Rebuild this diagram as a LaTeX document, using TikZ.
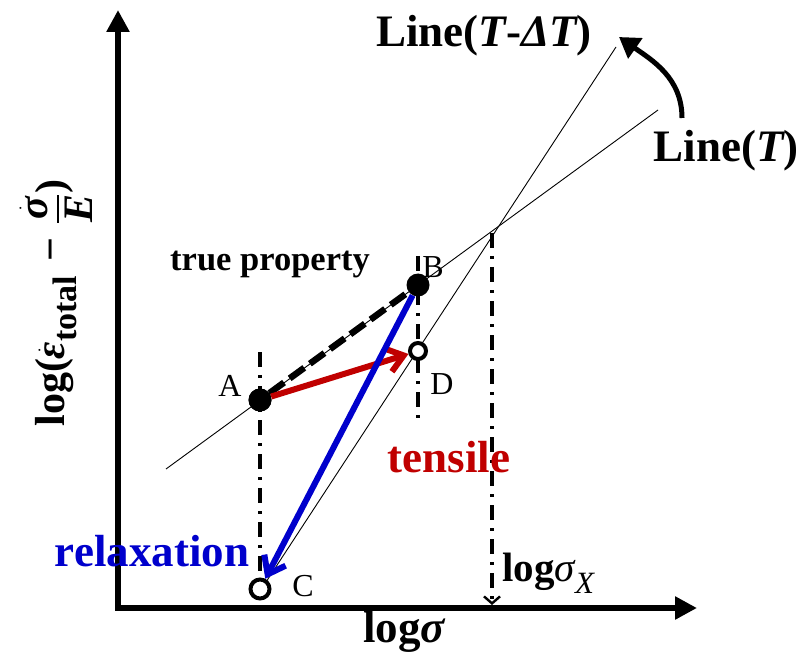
\documentclass[tikz,border=0pt]{standalone}
\usepackage{fontspec}
\setmainfont{Liberation Serif}
\usepackage{amsmath}
\usetikzlibrary{arrows.meta}
\definecolor{myred}{RGB}{192,0,0}
\definecolor{myblue}{RGB}{0,0,204}
\newsavebox{\ylabbox}
\begin{document}
\sbox{\ylabbox}{\fontsize{42}{46}\selectfont\bfseries log($\dot{\text{\bfseries\itshape ε}}$\raisebox{-0.3em}{\fontsize{34}{36}\selectfont total}\,\,−\,\,$\genfrac{}{}{2.2pt}{0}{\dot{\text{\bfseries\itshape σ}}}{\text{\bfseries\itshape E}}$)}
\begin{tikzpicture}[x=1pt,y=-1pt,
  guide/.style={line width=0.9pt},
  axis/.style={line width=5.5pt,-{Triangle[length=22pt,width=22pt]}},
  dashdot/.style={line width=3.4pt,dash pattern=on 15pt off 8pt on 3pt off 8pt},
  filledpt/.style={circle,fill=black,inner sep=0pt,minimum size=23pt},
  openpt/.style={circle,draw=black,line width=4pt,fill=white,inner sep=0pt},
  ptlabel/.style={font=\fontsize{32}{32}\selectfont},
  biglabel/.style={font=\fontsize{45}{50}\selectfont\bfseries},
  vec/.style={line width=6pt,-{Straight Barb[length=16pt,width=24pt,line width=6pt]}}]
\useasboundingbox (0,0) rectangle (808,668);

% axes
\coordinate (O) at (118,608);
\coordinate (Ytop) at (118,10);
\coordinate (Xend) at (697,608);
\coordinate (Ostart) at (115,608);
\draw[axis] (O) -- (Ytop);
\draw[axis] (Ostart) -- (Xend);

% thin lines
\coordinate (L1a) at (166,469);
\coordinate (L1b) at (658,110);
\coordinate (L2a) at (266,582);
\coordinate (L2b) at (616,47);
\draw[guide] (L1a) -- (L1b);
\draw[guide] (L2a) -- (L2b);

% dash-dot verticals
\coordinate (Va) at (260,352);
\coordinate (Vb1) at (418,256);
\coordinate (Vb2) at (418,418);
\coordinate (X) at (492,233);
\coordinate (Xa) at (492,605);
\draw[dashdot] (Vb1) -- (Vb2);
\draw[dashdot,-{Straight Barb[length=7pt,width=16pt,line width=2.4pt]}] (X) -- (Xa);

% points
\node[filledpt] (A) at (260,400) {};
\node[filledpt] (B) at (418,285) {};
\node[openpt,minimum size=16pt] (D) at (418,351) {};
\node[openpt,minimum size=19pt] (C) at (260,589) {};
\draw[dashdot] (Va) -- (C.north);
\node[filledpt] at (260,400) {};

% point labels
\node[ptlabel] (lA) at (230,386) {A};
\node[ptlabel] (lB) at (433,267) {B};
\node[ptlabel] (lD) at (442,384) {D};
\node[ptlabel] (lC) at (303,586) {C};

% connectors
\draw[line width=6.5pt,dash pattern=on 18pt off 7pt] (A) -- (B);
\draw[vec,myred] (A) -- (D);
\draw[vec,myblue] (B) -- (C);

% texts
\node[font=\fontsize{34.5}{36}\selectfont\bfseries] (tp) at (270,265) {true property};
\node[biglabel,text=myred] (ten) at (449,457) {tensile};
\node[biglabel,text=myblue] (rel) at (152,551) {relaxation};
\node[biglabel] (LdT) at (484,36) {Line({\itshape T}-{\itshape ΔT})};
\node[biglabel] (LT) at (726,151) {Line({\itshape T})};
\node[font=\fontsize{45}{48}\selectfont\bfseries] (xl) at (404,632) {log{\itshape σ}};
\node[font=\fontsize{41}{44}\selectfont\bfseries,anchor=west] (sx) at (499,573) {log{\mdseries\itshape σ\raisebox{-0.3em}{\fontsize{31}{32}\selectfont X}}};
\node[rotate=90,inner sep=0pt,anchor=base] (yl) at (64,303) {\usebox{\ylabbox}};

% curved arrow
\coordinate (cs) at (682,118);
\coordinate (ce) at (619,37);
\draw[line width=5pt,-{Triangle[length=20pt,width=24pt]}] (cs) to[out=90,in=-35] (ce);
\end{tikzpicture}
\end{document}
